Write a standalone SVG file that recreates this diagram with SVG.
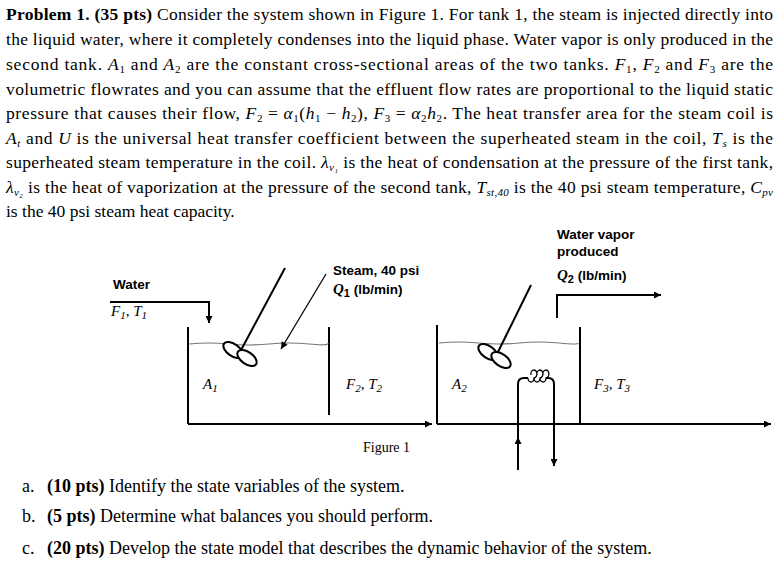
<svg xmlns="http://www.w3.org/2000/svg" width="782" height="574" viewBox="0 0 782 574">
<defs>
<marker id="ah" viewBox="0 0 10 10" refX="10" refY="5" markerWidth="9" markerHeight="7" orient="auto" markerUnits="userSpaceOnUse"><path d="M0,0 L10,5 L0,10 z" fill="#000"/></marker>
<style>
.t{font-family:"Liberation Serif",serif;font-size:17.5px;fill:#000}
.q{font-size:18px}
.b{font-weight:bold}
.i{font-style:italic}
.f{font-family:"Liberation Sans",Arial,sans-serif;font-size:13.5px;fill:#000;font-weight:bold}
.fi{font-family:"Liberation Serif",serif;font-size:15px;font-style:italic;fill:#000}
.s{font-size:11px}
.ln{stroke:#000;stroke-width:2;fill:none}
.th{stroke:#000;stroke-width:1.3;fill:none}
.water{stroke:#777;stroke-width:1.2;fill:none}
</style>
</defs>
<rect width="782" height="574" fill="#fff"/>
<g id="problem">
<text class="t" x="6" y="20" textLength="767" lengthAdjust="spacing"><tspan class="b">Problem 1. (35 pts)</tspan> Consider the system shown in Figure 1. For tank 1, the steam is injected directly into</text>
<text class="t" x="6" y="45" textLength="767" lengthAdjust="spacing">the liquid water, where it completely condenses into the liquid phase. Water vapor is only produced in the</text>
<text class="t" x="6" y="70" textLength="767" lengthAdjust="spacing">second tank. <tspan class="i">A</tspan><tspan class="s" dy="3">1</tspan><tspan dy="-3"> and </tspan><tspan class="i">A</tspan><tspan class="s" dy="3">2</tspan><tspan dy="-3"> are the constant cross-sectional areas of the two tanks. </tspan><tspan class="i">F</tspan><tspan class="s" dy="3">1</tspan><tspan dy="-3">, </tspan><tspan class="i">F</tspan><tspan class="s" dy="3">2</tspan><tspan dy="-3"> and </tspan><tspan class="i">F</tspan><tspan class="s" dy="3">3</tspan><tspan dy="-3"> are the</tspan></text>
<text class="t" x="6" y="95" textLength="767" lengthAdjust="spacing">volumetric flowrates and you can assume that the effluent flow rates are proportional to the liquid static</text>
<text class="t" x="6" y="119" textLength="767" lengthAdjust="spacing">pressure that causes their flow, <tspan class="i">F</tspan><tspan class="s" dy="3">2</tspan><tspan dy="-3"> = </tspan><tspan class="i">α</tspan><tspan class="s" dy="3">1</tspan><tspan dy="-3">(</tspan><tspan class="i">h</tspan><tspan class="s" dy="3">1</tspan><tspan dy="-3"> − </tspan><tspan class="i">h</tspan><tspan class="s" dy="3">2</tspan><tspan dy="-3">), </tspan><tspan class="i">F</tspan><tspan class="s" dy="3">3</tspan><tspan dy="-3"> = </tspan><tspan class="i">α</tspan><tspan class="s" dy="3">2</tspan><tspan class="i" dy="-3">h</tspan><tspan class="s" dy="3">2</tspan><tspan dy="-3">. The heat transfer area for the steam coil is</tspan></text>
<text class="t" x="6" y="144" textLength="767" lengthAdjust="spacing"><tspan class="i">A</tspan><tspan class="s i" dy="3">t</tspan><tspan dy="-3"> and </tspan><tspan class="i">U</tspan><tspan> is the universal heat transfer coefficient between the superheated steam in the coil, </tspan><tspan class="i">T</tspan><tspan class="s i" dy="3">s</tspan><tspan dy="-3"> is the</tspan></text>
<text class="t" x="6" y="168" textLength="767" lengthAdjust="spacing">superheated steam temperature in the coil. <tspan class="i">λ</tspan><tspan class="s i" dy="3">v₁</tspan><tspan dy="-3"> is the heat of condensation at the pressure of the first tank,</tspan></text>
<text class="t" x="6" y="193" textLength="767" lengthAdjust="spacing"><tspan class="i">λ</tspan><tspan class="s i" dy="3">v₂</tspan><tspan dy="-3"> is the heat of vaporization at the pressure of the second tank, </tspan><tspan class="i">T</tspan><tspan class="s i" dy="3">st,40</tspan><tspan dy="-3"> is the 40 psi steam temperature, </tspan><tspan class="i">C</tspan><tspan class="s i" dy="3">pv</tspan></text>
<text class="t" x="6" y="217">is the 40 psi steam heat capacity.</text>
</g>
<g id="questions">
<text class="t q" x="22" y="492">a.<tspan x="47" class="b">(10 pts)</tspan> Identify the state variables of the system.</text>
<text class="t q" x="22" y="522">b.<tspan x="47" class="b">(5 pts)</tspan> Determine what balances you should perform.</text>
<text class="t q" x="22" y="554">c.<tspan x="47" class="b">(20 pts)</tspan> Develop the state model that describes the dynamic behavior of the system.</text>
</g>
<g id="tank1">
<path class="ln" d="M188,327 V424"/>
<path class="ln" d="M329,327 V415"/>
<path class="water" d="M189,344 q20,-2 40,0 t40,0 t40,0 t19,-1"/>
<text class="fi" x="203" y="389">A<tspan class="s" dy="3">1</tspan></text>
</g>
<g id="stirrer1">
<path class="ln" d="M285,268 L240,352"/>
<ellipse cx="233" cy="350" rx="11" ry="6" transform="rotate(35 233 350)" fill="#fff" stroke="#000" stroke-width="2"/>
<ellipse cx="247" cy="358" rx="11" ry="6" transform="rotate(35 247 358)" fill="#fff" stroke="#000" stroke-width="2"/>
</g>
<g id="tank2">
<path class="ln" d="M437,325 V424"/>
<path class="ln" d="M580,327 V424"/>
<path class="water" d="M439,343 q20,-2 40,0 t40,0 t40,0 t19,0"/>
<text class="fi" x="452" y="389">A<tspan class="s" dy="3">2</tspan></text>
</g>
<g id="stirrer2">
<path class="ln" d="M531,285 L497,354"/>
<ellipse cx="488" cy="352" rx="11" ry="6" transform="rotate(35 488 352)" fill="#fff" stroke="#000" stroke-width="2"/>
<ellipse cx="501" cy="360" rx="11" ry="6" transform="rotate(35 501 360)" fill="#fff" stroke="#000" stroke-width="2"/>
</g>
<g id="coil">
<path class="ln" d="M518,462 V384 q0,-6 6,-6 h4 M546,378 h2 q6,0 6,6 V462"/>
<path class="th" d="M528,378 a3,4 0 1,0 6,0 a3,4 0 1,0 -3,-3 M534,378 a3,4 0 1,0 6,0 a3,4 0 1,0 -3,-3 M540,378 a3,4 0 1,0 6,0 a3,4 0 1,0 -3,-3"/>
</g>
<g id="connectors">
<path class="ln" d="M110,302 H209 V323" marker-end="url(#ah)"/>
<path class="th" d="M326,274 L281,349" marker-end="url(#ah)"/>
<path class="ln" d="M188,424 H432" marker-end="url(#ah)"/>
<path class="ln" d="M437,424 H771" marker-end="url(#ah)"/>
<path class="ln" d="M557,318 V295 H661" marker-end="url(#ah)"/>
<path class="ln" d="M518,470 V437" marker-end="url(#ah)"/>
<path class="ln" d="M554,440 V466" marker-end="url(#ah)"/>
</g>
<g id="labels">
<text class="f" x="113" y="289">Water</text>
<text class="fi" x="111" y="316">F<tspan class="s" dy="3">1</tspan><tspan dy="-3">, T</tspan><tspan class="s" dy="3">1</tspan></text>
<text class="f" x="333" y="275">Steam, 40 psi</text>
<text class="f" x="333" y="294"><tspan class="fi">Q</tspan><tspan class="s" dy="3">1</tspan><tspan dy="-3"> (lb/min)</tspan></text>
<text class="fi" x="346" y="389">F<tspan class="s" dy="3">2</tspan><tspan dy="-3">, T</tspan><tspan class="s" dy="3">2</tspan></text>
<text class="f" x="557" y="239">Water vapor</text>
<text class="f" x="557" y="256">produced</text>
<text class="f" x="557" y="280"><tspan class="fi">Q</tspan><tspan class="s" dy="3">2</tspan><tspan dy="-3"> (lb/min)</tspan></text>
<text class="fi" x="594" y="389">F<tspan class="s" dy="3">3</tspan><tspan dy="-3">, T</tspan><tspan class="s" dy="3">3</tspan></text>
<text class="t" x="363" y="452" style="font-size:14px">Figure 1</text>
</g>
</svg>
